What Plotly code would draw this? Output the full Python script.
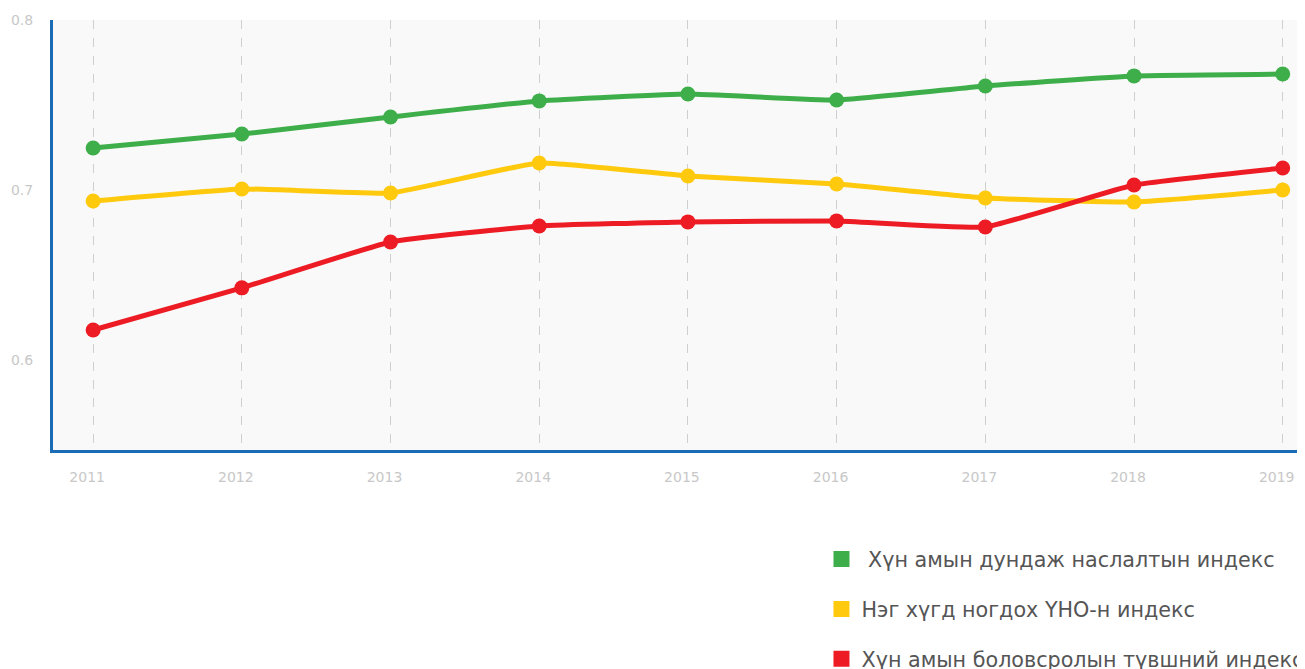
import plotly.graph_objects as go

years = [2011, 2012, 2013, 2014, 2015, 2016, 2017, 2018, 2019]

series = [
    (" Хүн амын дундаж наслалтын индекс", "#3dae49",
     [0.7247, 0.7329, 0.7429, 0.7524, 0.7565, 0.7529, 0.7612, 0.7671, 0.7682]),
    ("Нэг хүгд ногдох ҮНО-н индекс", "#ffc90e",
     [0.6935, 0.7006, 0.6982, 0.7159, 0.7082, 0.7035, 0.6953, 0.6929, 0.7000]),
    ("Хүн амын боловсролын түвшний индекс", "#ed1c24",
     [0.6176, 0.6424, 0.6694, 0.6788, 0.6812, 0.6818, 0.6782, 0.7029, 0.7129]),
]

fig = go.Figure()

for i, (name, color, vals) in enumerate(series):
    fig.add_trace(go.Scatter(
        x=years, y=vals, mode="lines+markers",
        line=dict(color=color, width=5, shape="spline", smoothing=0.35),
        marker=dict(size=15, color=color),
        name=name, showlegend=False
    ))
    # square legend entry
    fig.add_trace(go.Scatter(
        x=[None], y=[None], mode="markers",
        marker=dict(symbol="square", size=16, color=color),
        name=name, legendgroup=f"g{i}", showlegend=True
    ))

# the page body adds an 8px offset, so size and margins are reduced by that
fig.update_layout(
    width=1297, height=661,
    margin=dict(l=45, r=0, t=12, b=219, autoexpand=False),
    plot_bgcolor="#f9f9f9",
    paper_bgcolor="white",
    font=dict(family="DejaVu Sans", color="#555"),
    legend=dict(
        x=0.6138, y=-0.207, xanchor="left", yanchor="top",
        font=dict(size=20.7, color="#555"),
        tracegroupgap=20, bgcolor="rgba(0,0,0,0)"
    ),
    xaxis=dict(
        range=[2010.73, 2019.15], tickvals=years, automargin=False,
        showgrid=True, gridcolor="#cfcfcf", griddash="dash", gridwidth=1,
        showline=True, linecolor="#1a6db5", linewidth=3,
        zeroline=False, ticks="",
        tickfont=dict(size=14, color="#c8c8c8"),
        ticklabelstandoff=12, ticklabelshift=-6
    ),
    yaxis=dict(
        range=[0.547, 0.8], tickvals=[0.6, 0.7, 0.8], automargin=False,
        showgrid=False,
        showline=True, linecolor="#1a6db5", linewidth=3,
        zeroline=False, ticks="",
        tickfont=dict(size=14, color="#c8c8c8"), ticklabelstandoff=14
    ),
)

fig.write_html("out.html")
